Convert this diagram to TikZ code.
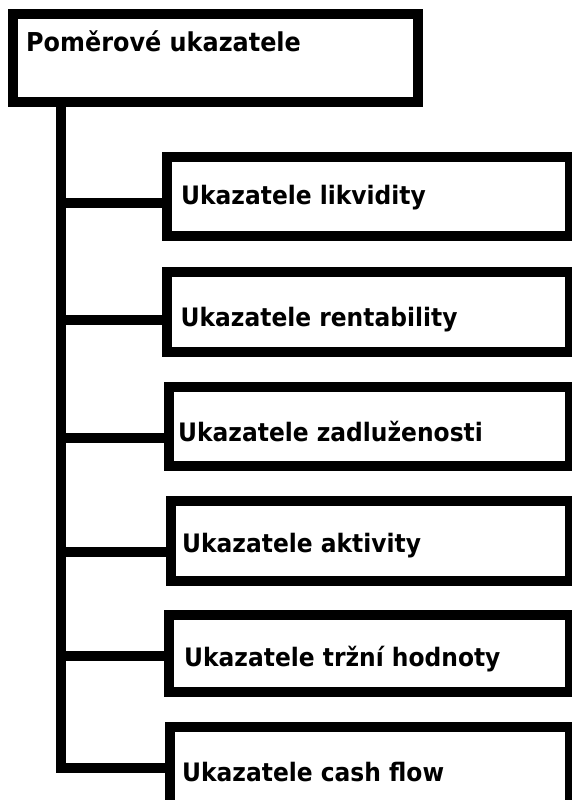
\documentclass[tikz,border=0pt]{standalone}
\usepackage{fontspec}
\setmainfont[FakeStretch=0.92]{DejaVu Sans}
\begin{document}
\begin{tikzpicture}[x=1pt,y=-1pt,
  box/.style={draw=black, line width=10pt, rectangle, inner sep=0pt, fill=white},
  lbl/.style={anchor=base west, inner sep=0pt, font=\fontsize{25.4}{30}\selectfont\bfseries, text=black},
  conn/.style={draw=black, line width=10pt, line join=miter}]
\useasboundingbox[fill=white] (0,0) rectangle (571,800);
% top box
\node[box, minimum width=405pt, minimum height=88pt] (top) at (215.5,58) {};
\node[lbl, font=\fontsize{26}{30}\selectfont\bfseries] (ttop) at (26,52) {Poměrové ukazatele};
% child boxes
\node[box, minimum width=403pt, minimum height=79pt] (b1) at (368.5,196.5) {};
\node[box, minimum width=403pt, minimum height=80pt] (b2) at (368.5,312.3) {};
\node[box, minimum width=400.7pt, minimum height=79.7pt] (b3) at (369.6,426.5) {};
\node[box, minimum width=398.7pt, minimum height=79.5pt] (b4) at (370.6,540.8) {};
\node[box, minimum width=400.7pt, minimum height=76.5pt] (b5) at (369.6,653.5) {};
\node[box, minimum width=400.4pt, minimum height=82pt] (b6) at (369.8,767.8) {};
\node[lbl] (t1) at (181,204) {Ukazatele likvidity};
\node[lbl] (t2) at (180.5,326) {Ukazatele rentability};
\node[lbl] (t3) at (178,441) {Ukazatele zadluženosti};
\node[lbl] (t4) at (182,552.6) {Ukazatele aktivity};
\node[lbl] (t5) at (184,666) {Ukazatele tržní hodnoty};
\node[lbl] (t6) at (182,781) {Ukazatele cash flow};
% trunk and connectors
\coordinate (trunk) at (61,102);
\coordinate (j1) at (61,202.6);
\coordinate (j2) at (61,320);
\coordinate (j3) at (61,438.4);
\coordinate (j4) at (61,552.3);
\coordinate (j5) at (61,656);
\coordinate (j6) at (61,767.7);
\draw[conn] (trunk) -- (j6) -- (j6 -| b6.west);
\draw[conn] (j1) -- (j1 -| b1.west);
\draw[conn] (j2) -- (j2 -| b2.west);
\draw[conn] (j3) -- (j3 -| b3.west);
\draw[conn] (j4) -- (j4 -| b4.west);
\draw[conn] (j5) -- (j5 -| b5.west);
\end{tikzpicture}
\end{document}
